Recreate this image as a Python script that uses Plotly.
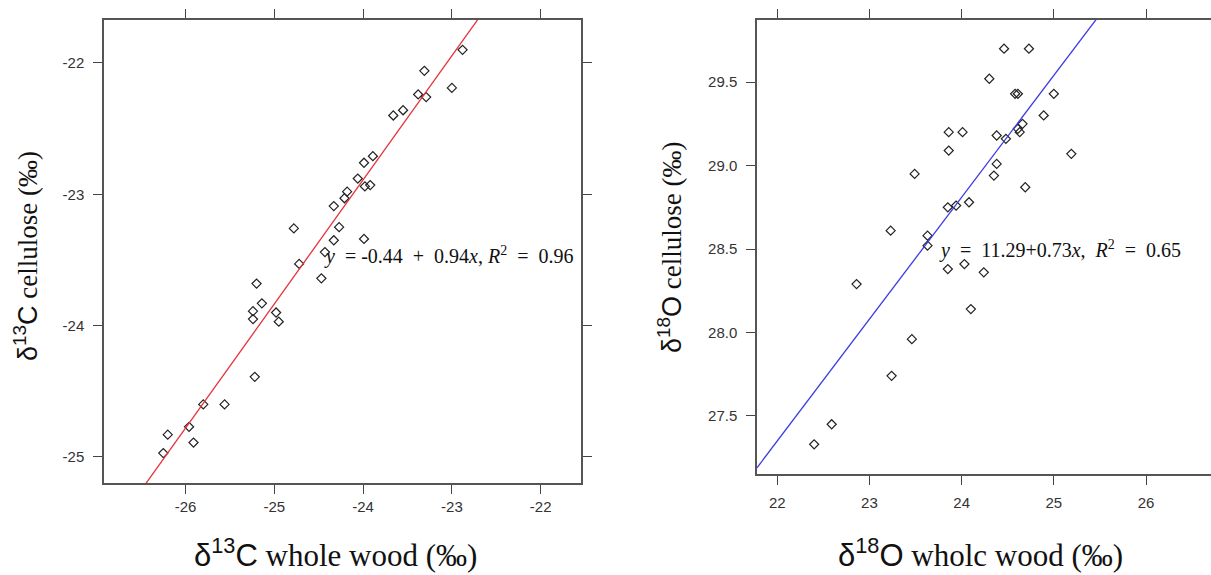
import plotly.graph_objects as go

W, H = 1211, 575

# ---- Data: left panel (delta 13C) ----
c_whole_wood = [-22.88, -23.31, -23.00, -23.38, -23.29, -23.66, -23.55, -23.89, -23.99,
                -24.06, -23.98, -23.92, -24.18, -24.21, -24.33, -24.78, -24.27, -24.33,
                -23.99, -24.43, -24.72, -24.47, -25.20, -25.14, -25.24, -25.24, -24.98,
                -24.95, -25.22, -25.80, -25.56, -25.96, -26.20, -25.91, -26.25]
c_cellulose = [-21.90, -22.06, -22.19, -22.24, -22.26, -22.40, -22.36, -22.71, -22.76,
               -22.88, -22.94, -22.93, -22.98, -23.03, -23.09, -23.26, -23.25, -23.35,
               -23.34, -23.44, -23.53, -23.64, -23.68, -23.83, -23.89, -23.95, -23.90,
               -23.97, -24.39, -24.60, -24.60, -24.77, -24.83, -24.89, -24.97]
c_line_intercept = -0.21   # line as drawn
c_line_slope = 0.945
NB = "\u00a0"
c_label = ("<i>y</i>" + NB + " = -0.44" + NB + " + " + NB + "0.94<i>x</i>,"
           + " <i>R</i><sup>2</sup>" + NB + " = " + NB + "0.96")
c_xticks = [-26, -25, -24, -23, -22]
c_yticks = [-25, -24, -23, -22]
c_xrange = [-26.918, -21.546]
c_yrange = [-25.198, -21.673]

# ---- Data: right panel (delta 18O) ----
o_whole_wood = [24.46, 24.73, 24.30, 24.58, 24.61, 25.00, 24.89, 23.86, 24.01, 24.38,
                24.48, 24.61, 24.66, 24.63, 23.86, 25.19, 24.38, 24.35, 23.49, 24.69,
                24.08, 23.85, 23.94, 23.23, 23.63, 23.63, 23.85, 24.03, 24.24, 22.86,
                24.10, 23.46, 23.24, 22.59, 22.40]
o_cellulose = [29.70, 29.70, 29.52, 29.43, 29.43, 29.43, 29.30, 29.20, 29.20, 29.18,
               29.16, 29.22, 29.25, 29.20, 29.09, 29.07, 29.01, 28.94, 28.95, 28.87,
               28.78, 28.75, 28.76, 28.61, 28.58, 28.52, 28.38, 28.41, 28.36, 28.29,
               28.14, 27.96, 27.74, 27.45, 27.33]
o_line_intercept = 11.29
o_line_slope = 0.73
o_label = ("<i>y</i>" + NB + " = " + NB + "11.29+0.73<i>x</i>,"
           + NB + " <i>R</i><sup>2</sup>" + NB + " = " + NB + "0.65")
o_xticks = [22, 23, 24, 25, 26]
o_yticks = [27.5, 28.0, 28.5, 29.0, 29.5]
o_xrange = [21.78, 26.705]
o_yrange = [27.152, 29.872]

# ---- Layout geometry (pixels) ----
L = dict(x0=104, x1=581, y0=20, y1=483)
R = dict(x0=757, x1=1211, y0=20, y1=474)

def px_dom_x(a, b):
    return [a / W, b / W]

def px_dom_y(top, bottom):
    return [1 - bottom / H, 1 - top / H]

fig = go.Figure()

marker = dict(symbol="diamond-open", size=7, color="#222222", line=dict(width=1.2, color="#222222"))

fig.add_trace(go.Scatter(x=c_whole_wood, y=c_cellulose, mode="markers", marker=marker,
                         xaxis="x", yaxis="y", showlegend=False))
fig.add_trace(go.Scatter(x=c_xrange,
                         y=[c_line_intercept + c_line_slope * v for v in c_xrange],
                         mode="lines", line=dict(color="#e8323c", width=1.3),
                         xaxis="x", yaxis="y", showlegend=False))

fig.add_trace(go.Scatter(x=o_whole_wood, y=o_cellulose, mode="markers", marker=marker,
                         xaxis="x2", yaxis="y2", showlegend=False))
fig.add_trace(go.Scatter(x=o_xrange,
                         y=[o_line_intercept + o_line_slope * v for v in o_xrange],
                         mode="lines", line=dict(color="#3b3be0", width=1.3),
                         xaxis="x2", yaxis="y2", showlegend=False))

tickfont = dict(family="Liberation Sans, Arial, sans-serif", size=15, color="#333333")
axcommon = dict(showgrid=False, zeroline=False, showline=True, linecolor="#555555",
                linewidth=1.5, ticks="outside", ticklen=9, tickwidth=1.3,
                tickcolor="#444444", tickfont=tickfont)

fig.update_layout(
    width=W, height=H,
    margin=dict(l=0, r=0, t=0, b=0),
    paper_bgcolor="white", plot_bgcolor="white",
    xaxis=dict(domain=px_dom_x(L["x0"], L["x1"]), range=c_xrange, tickvals=c_xticks,
               ticktext=[str(v) for v in c_xticks], anchor="y", mirror="ticks",
               ticklabelstandoff=0, **axcommon),
    yaxis=dict(domain=px_dom_y(L["y0"], L["y1"]), range=c_yrange, tickvals=c_yticks,
               ticktext=[str(v) for v in c_yticks], anchor="x", mirror="ticks",
               ticklabelstandoff=6, **axcommon),
    xaxis2=dict(domain=px_dom_x(R["x0"], R["x1"]), range=o_xrange, tickvals=o_xticks,
                ticktext=[str(v) for v in o_xticks], anchor="y2", mirror="ticks",
                ticklabelstandoff=5, **axcommon),
    yaxis2=dict(domain=px_dom_y(R["y0"], R["y1"]), range=o_yrange, tickvals=o_yticks,
                ticktext=["%.1f" % v for v in o_yticks], anchor="x2", mirror=False,
                ticklabelstandoff=6, **axcommon),
)

sans_span = '<span style="font-family:Liberation Sans, Arial, sans-serif">'
def iso(mass, elem):
    return sans_span + "δ<sup>" + mass + "</sup>" + elem + "</span>"

serif = "Liberation Serif, Times New Roman, serif"
xtitle_font = dict(family=serif, size=31, color="#111111")
ytitle_font = dict(family=serif, size=27, color="#111111")
label_font = dict(family=serif, size=20, color="#111111")

common = dict(xref="paper", yref="paper", showarrow=False, xanchor="center", yanchor="middle")
annots = [
    dict(text=iso("13", "C") + " whole wood (‰)", x=336 / W, y=1 - 553 / H,
         font=xtitle_font, **common),
    dict(text=iso("13", "C") + " cellulose (‰)", x=26 / W, y=1 - 256 / H, textangle=-90,
         font=ytitle_font, **common),
    dict(text=iso("18", "O") + " wholc wood (‰)", x=981 / W, y=1 - 553 / H,
         font=xtitle_font, **common),
    dict(text=iso("18", "O") + " cellulose (‰)", x=670 / W, y=1 - 247 / H, textangle=-90,
         font=ytitle_font, **common),
    dict(text=c_label, x=322 / W, y=1 - 255 / H, xref="paper", yref="paper",
         showarrow=False, xanchor="left", yanchor="middle", font=label_font),
    dict(text=o_label, x=937 / W, y=1 - 250 / H, xref="paper", yref="paper",
         showarrow=False, xanchor="left", yanchor="middle", font=label_font),
]
fig.update_layout(annotations=annots)

fig.write_html("out.html")
